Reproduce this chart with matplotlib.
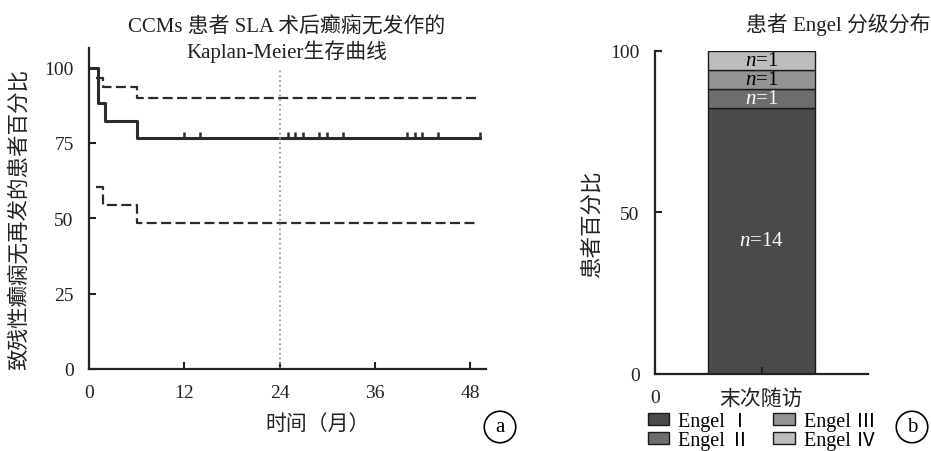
import matplotlib
matplotlib.use("Agg")
import matplotlib.pyplot as plt
from matplotlib.patches import Patch
import numpy as np

plt.rcParams['font.family'] = ['Liberation Serif', 'Noto Sans CJK SC', 'DejaVu Sans']
plt.rcParams['mathtext.fontset'] = 'custom'
plt.rcParams['mathtext.it'] = 'Liberation Serif:italic'
plt.rcParams['mathtext.rm'] = 'Liberation Serif'

# ---- Kaplan-Meier data (panel a) ----
km_time = [0, 1.1, 2.0, 6.0, 49.2]
km_surv = [100, 88.2, 82.4, 76.5, 76.5]
upper_time = [0.9, 1.8, 6.0, 49.0]
upper_ci = [96.7, 93.6, 90.0, 90.0]
lower_time = [0.9, 1.8, 6.0, 48.6]
lower_ci = [60.4, 54.5, 48.5, 48.5]
censor_time = [12, 14, 25, 26, 27, 29, 30, 32, 40, 41, 42, 44, 49.2]
censor_surv = [76.5] * len(censor_time)
x_ticks_a = [0, 12, 24, 36, 48]
y_ticks_a = [0, 25, 50, 75, 100]
ref_month = 24

# ---- Engel data (panel b) ----
engel_labels = ['Engel Ⅰ', 'Engel Ⅱ', 'Engel Ⅲ', 'Engel Ⅳ']
engel_counts = [14, 1, 1, 1]
engel_colors = ['#4a4a4c', '#6d6d70', '#949496', '#bdbdbf']
engel_text_colors = ['white', 'white', 'black', 'black']
bar_category = '末次随访'

W, H = 931, 452
fig = plt.figure(figsize=(W / 100, H / 100), dpi=100)


def px_axes(l, t, r, b):
    return fig.add_axes([l / W, 1 - b / H, (r - l) / W, (b - t) / H])


line_c = '#2b2b2b'
txt_c = '#222222'

# ---------- Panel a ----------
ax = px_axes(89, 49, 486, 370)
ax.plot(km_time, km_surv, drawstyle='steps-post', color=line_c, lw=2.2)
ax.plot(upper_time, upper_ci, drawstyle='steps-post', color=line_c, lw=1.6,
        dashes=(4.5, 2))
ax.plot(lower_time, lower_ci, drawstyle='steps-post', color=line_c, lw=1.6,
        dashes=(4.5, 2))
ax.plot(censor_time, censor_surv, linestyle='none', color=line_c,
        marker=[(0, 0), (0, 1)], markersize=8, markeredgewidth=1.8)
ax.plot([ref_month, ref_month], [0, 100], color='#9a9a9a', lw=1.3, ls=':')
ax.set_xlim(0, 50)
ax.set_ylim(0, 106.5)
ax.set_xticks(x_ticks_a)
ax.set_yticks(y_ticks_a)
for s in ['top', 'right']:
    ax.spines[s].set_visible(False)
for s in ['left', 'bottom']:
    ax.spines[s].set_linewidth(1.6)
    ax.spines[s].set_color(txt_c)
ax.tick_params(direction='in', length=5, width=1.5, labelsize=14, pad=11,
               colors=txt_c)
fig.text(287 / W, 1 - 40 / H, 'CCMs 患者 SLA 术后癫痫无发作的\nKaplan-Meier生存曲线',
         ha='center', va='center', fontsize=15, linespacing=1.15, color=txt_c)
fig.text(318 / W, 1 - 425 / H, '时间（月）', ha='center', va='center',
         fontsize=15, color=txt_c)
fig.text(19 / W, 1 - 220 / H, '致残性癫痫无再发的患者百分比', ha='center', va='center',
         rotation=90, fontsize=15.5, color=txt_c)
fig.text(500 / W, 1 - 428 / H, 'a', ha='center', va='center', fontsize=15,
         bbox=dict(boxstyle='circle,pad=0.3', fc='white', ec='black', lw=1.2))

# ---------- Panel b ----------
bx = px_axes(655, 51.7, 868, 375)
total = sum(engel_counts)
bottom = 0
for cnt, col, tc in zip(engel_counts, engel_colors, engel_text_colors):
    pct = cnt / total * 100
    bx.bar(1, pct, width=1.0, bottom=bottom, color=col, edgecolor='#1a1a1a',
           linewidth=1.0)
    bx.text(1, bottom + pct / 2, f'$n$={cnt}', ha='center', va='center',
            fontsize=15, color=tc)
    bottom += pct
bx.set_xlim(0, 2)
bx.set_ylim(0, 100)
bx.set_xticks([0, 1])
bx.set_xticklabels(['0', bar_category])
bx.set_yticks([0, 50, 100])
for s in ['top', 'right']:
    bx.spines[s].set_visible(False)
for s in ['left', 'bottom']:
    bx.spines[s].set_linewidth(1.6)
    bx.spines[s].set_color(txt_c)
bx.tick_params(direction='in', length=5, width=1.5, labelsize=14, pad=11,
               colors=txt_c)
bx.get_xticklabels()[1].set_fontsize(15)
fig.text(592 / W, 1 - 223 / H, '患者百分比', ha='center', va='center',
         rotation=90, fontsize=15.5, color=txt_c)
fig.text(838 / W, 1 - 25 / H, '患者 Engel 分级分布', ha='center', va='center',
         fontsize=15, color=txt_c)

handles = [Patch(facecolor=c, edgecolor='#1a1a1a', lw=1.0) for c in engel_colors]
fig.legend(handles, engel_labels,
           ncol=2, loc='lower left', bbox_to_anchor=(648 / W, 1 / H),
           frameon=False, fontsize=14.5, handlelength=1.05, handleheight=0.6,
           handletextpad=0.45, columnspacing=1.15, labelspacing=0.0,
           borderaxespad=0, borderpad=0)
fig.text(912 / W, 1 - 428 / H, 'b', ha='center', va='center', fontsize=15,
         bbox=dict(boxstyle='circle,pad=0.3', fc='white', ec='black', lw=1.2))

fig.savefig('out.png', dpi=100)
